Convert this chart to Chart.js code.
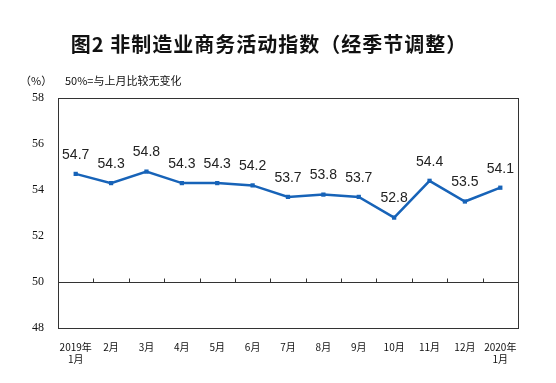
<!DOCTYPE html>
<html><head><meta charset="utf-8">
<script src="https://cdn.jsdelivr.net/npm/chart.js@4"></script>
<style>
html,body{margin:0;padding:0;background:#fff;}
#wrap{position:relative;width:556px;height:383px;}
canvas{position:absolute;left:0;top:0;}
.t{position:absolute;white-space:nowrap;color:#111;}
</style></head><body>
<div id="wrap">
<canvas id="c" width="556" height="383"></canvas>
<div class="t" style="left:0;width:538px;top:29px;text-align:center;font:bold 20px 'Noto Sans CJK SC';letter-spacing:1px;">图2 非制造业商务活动指数（经季节调整）</div>
<div class="t" style="left:20px;top:72px;font:11px 'Noto Sans CJK SC';">（%）</div>
<div class="t" style="left:65px;top:72px;font:11px 'Noto Sans CJK SC';">50%=与上月比较无变化</div>
</div>
<script>
const categories = [['2019年','1月'],'2月','3月','4月','5月','6月','7月','8月','9月','10月','11月','12月',['2020年','1月']];
const values = [54.7,54.3,54.8,54.3,54.3,54.2,53.7,53.8,53.7,52.8,54.4,53.5,54.1];
const yTicks = [48,50,52,54,56,58];

const extras = {
  id:'extras',
  afterDatasetsDraw(chart){
    const {ctx, chartArea:a, scales:{x,y}} = chart;
    ctx.save();
    ctx.strokeStyle='#333'; ctx.lineWidth=1;
    ctx.beginPath();
    ctx.moveTo(a.left, a.top+0.5); ctx.lineTo(a.right+0.5, a.top+0.5);
    ctx.moveTo(a.right+0.5, a.top); ctx.lineTo(a.right+0.5, a.bottom);
    const y50 = Math.round(y.getPixelForValue(50))+0.5;
    for(let i=1;i<categories.length;i++){
      const px = Math.round((x.getPixelForValue(i-1)+x.getPixelForValue(i))/2)+0.5;
      ctx.moveTo(px,y50); ctx.lineTo(px,y50-4);
    }
    ctx.stroke();
    const meta = chart.getDatasetMeta(0);
    ctx.fillStyle='#222'; ctx.font='14px "Liberation Sans"';
    ctx.textAlign='center'; ctx.textBaseline='middle';
    meta.data.forEach((p,i)=>{ ctx.fillText(values[i].toFixed(1), p.x, p.y-19); });
    ctx.restore();
  }
};

new Chart(document.getElementById('c'),{
  type:'line',
  data:{labels:categories,datasets:[{data:values,borderColor:'#1763b8',backgroundColor:'#1763b8',borderWidth:2.5,pointStyle:'rect',pointRadius:3,pointBorderWidth:0,tension:0}]},
  options:{
    responsive:false,animation:false,
    layout:{padding:{top:98,right:38,left:0,bottom:0}},
    plugins:{legend:{display:false},tooltip:{enabled:false}},
    scales:{
      x:{offset:true,grid:{display:false},border:{color:'#333',width:1},
         ticks:{color:'#111',font:{family:'Noto Sans CJK SC',size:10},maxRotation:0,autoSkip:false,padding:5},
         afterFit(s){s.height=383-328;}},
      y:{min:48,max:58,
         afterBuildTicks(s){s.ticks=yTicks.map(v=>({value:v}));},
         grid:{color:c=>c.tick&&c.tick.value===50?'#333':'rgba(0,0,0,0)',drawTicks:false,lineWidth:1},
         border:{color:'#333',width:1},
         ticks:{color:'#111',font:{family:'Liberation Serif',size:12},padding:14},
         afterFit(s){s.width=58;}}
    }
  },
  plugins:[extras]
});
</script>
</body></html>
